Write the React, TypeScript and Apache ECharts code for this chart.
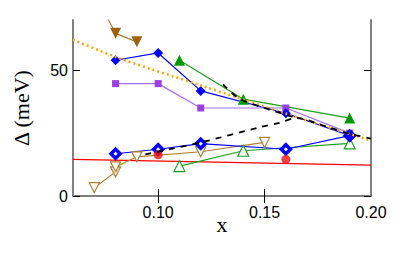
import React, { useEffect, useRef } from "react";
import * as echarts from "echarts";

const xTickLabels = [0.1, 0.15, 0.2];
const xTicks = [0.1, 0.15];
const yTickLabels = [0, 50];

const brownFilled = [[0.07, 80.7], [0.08, 64.7], [0.09, 61.3]];
const blueUpper = [[0.08, 54], [0.10, 56.9], [0.12, 41.8], [0.16, 32.9], [0.19, 24]];
const purple = [[0.08, 44.7], [0.10, 44.7], [0.12, 35], [0.16, 35], [0.19, 25]];
const greenFilled = [[0.11, 54], [0.14, 38.5], [0.19, 31]];
const orangeFit = [[0.06, 62.2], [0.08, 55.3], [0.12, 44], [0.16, 32.8], [0.20, 22]];
const redFit = [[0.06, 14.6], [0.20, 12.3]];
const redPoints = [[0.10, 16.4], [0.16, 14.6]];
const blueLower = [[0.08, 16.8], [0.10, 18.6], [0.12, 20.8], [0.16, 18.6], [0.19, 24]];
const brownOpen = [[0.07, 3.3], [0.08, 9.6], [0.08, 11.6], [0.09, 15.6], [0.12, 17.6], [0.15, 21.3]];
const greenOpen = [[0.11, 11.9], [0.14, 18], [0.19, 20.9]];
const dashedLower = [[0.094, 16.6], [0.12, 21.3], [0.148, 27.4], [0.157, 29.1], [0.165, 31], [0.18, 27.3], [0.19, 24.8], [0.20, 22.8]];
const dashedUpper = [[0.1305, 44.4], [0.138, 38.8], [0.15, 35], [0.165, 31]];

export default function App() {
  const ref = useRef<HTMLDivElement>(null);
  useEffect(() => {
    document.body.style.margin = "0";
    const chart = echarts.init(ref.current!, null, { renderer: "svg" });
    const axisColor = "#7f7f7f";
    const labelFont = { fontFamily: "Liberation Sans", fontSize: 16, color: "#000" };
    const nameFont = { fontFamily: "Liberation Serif", fontSize: 22, color: "#000" };
    const line = (data: number[][], color: string, symbol: string, opts: any = {}) => ({
      type: "line",
      data,
      symbol,
      symbolSize: opts.size ?? 9,
      symbolRotate: opts.rotate ?? 0,
      showSymbol: symbol !== "none",
      lineStyle: { color: opts.lineColor ?? color, width: opts.width ?? 1.2, type: opts.lineType ?? "solid" },
      itemStyle: opts.open
        ? { color: "#fff", borderColor: color, borderWidth: opts.borderWidth ?? 1.2 }
        : { color },
      smooth: opts.smooth ?? false,
      z: opts.z ?? 2,
      silent: true,
    });
    chart.setOption({
      animation: false,
      grid: { left: 73, right: 44, top: 20, bottom: 65 },
      xAxis: [
        {
          type: "value",
          position: "bottom",
          min: 0.06,
          max: 0.2,
          name: "x",
          nameLocation: "middle",
          nameGap: 17,
          nameMoveOverlap: false,
          nameTextStyle: nameFont,
          axisLine: { lineStyle: { color: axisColor, width: 2 } },
          axisTick: { inside: true, length: 7, customValues: xTicks, lineStyle: { color: "#000", width: 1 } },
          axisLabel: { customValues: xTickLabels, formatter: (v: number) => v.toFixed(2), margin: 8, ...labelFont },
          splitLine: { show: false },
        },
        {
          type: "value",
          position: "top",
          min: 0.06,
          max: 0.2,
          axisLine: { lineStyle: { color: axisColor, width: 2 } },
          axisTick: { inside: true, length: 7, customValues: xTicks, lineStyle: { color: "#000", width: 1 } },
          axisLabel: { show: false },
          splitLine: { show: false },
        },
      ],
      yAxis: [
        {
          type: "value",
          position: "left",
          min: 0,
          max: 70,
          interval: 50,
          name: "Δ (meV)",
          nameLocation: "middle",
          nameGap: 41,
          nameMoveOverlap: false,
          nameTextStyle: nameFont,
          axisLine: { show: true, lineStyle: { color: axisColor, width: 2 } },
          axisTick: { show: true, inside: true, length: 7, customValues: yTickLabels, lineStyle: { color: "#000", width: 1 } },
          axisLabel: { margin: 5, customValues: yTickLabels, ...labelFont },
          splitLine: { show: false },
        },
        {
          type: "value",
          position: "right",
          min: 0,
          max: 70,
          interval: 50,
          axisLine: { show: true, lineStyle: { color: axisColor, width: 2 } },
          axisTick: { show: true, inside: true, length: 7, customValues: yTickLabels, lineStyle: { color: "#000", width: 1 } },
          axisLabel: { show: false },
          splitLine: { show: false },
        },
      ],
      series: [
        line(redFit, "#ff0000", "none", { width: 1.3 }),
        { type: "scatter", data: redPoints, symbol: "circle", symbolSize: 9, itemStyle: { color: "#ee1010" }, z: 3, silent: true },
        line(brownFilled, "#9c6212", "triangle", { rotate: 180, size: 11, lineColor: "#a87a30" }),
        line(brownOpen, "#b08030", "triangle", { rotate: 180, size: 10, open: true }),
        line(greenOpen, "#1ea01e", "triangle", { size: 11, open: true }),
        line(greenFilled, "#009a00", "triangle", { size: 11, lineColor: "#1aa01a" }),
        line(purple, "#9b3fe0", "rect", { size: 7, lineColor: "#a070f0" }),
        line(blueLower, "#0000ff", "diamond", { size: 9, open: true, borderWidth: 3.5 }),
        line(blueUpper, "#0000ff", "diamond", { size: 10 }),
        line(orangeFit, "#ffa500", "none", { width: 2.5, lineType: [2, 3], smooth: 0.3, z: 4 }),
        line(dashedLower, "#000000", "none", { width: 1.8, lineType: [6, 6], smooth: 0.3, z: 5 }),
        line(dashedUpper, "#000000", "none", { width: 1.8, lineType: [6, 6], smooth: 0.3, z: 5 }),
      ],
    });
    return () => chart.dispose();
  }, []);
  return <div ref={ref} style={{ width: 415, height: 261 }} />;
}
